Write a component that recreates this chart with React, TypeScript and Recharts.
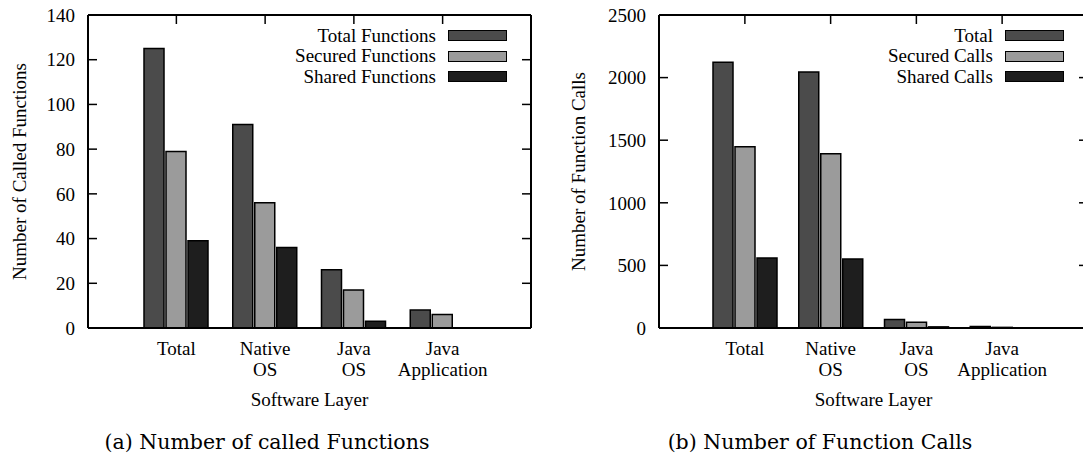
import { ComposedChart, Bar, Line, XAxis, YAxis, Legend } from 'recharts';

const layers = ['Total', 'Native\nOS', 'Java\nOS', 'Java\nApplication'];

// (a) number of called functions
const totalFunctions = [125, 91, 26, 8];
const securedFunctions = [79, 56, 17, 6];
const sharedFunctions = [39, 36, 3, 0];
const functionTicks = [0, 20, 40, 60, 80, 100, 120, 140];

// (b) number of function calls
const totalCalls = [2122, 2045, 67, 12];
const securedCalls = [1447, 1391, 46, 5];
const sharedCalls = [560, 552, 9, 0];
const callTicks = [0, 500, 1000, 1500, 2000, 2500];

const FONT = '"Liberation Serif", "DejaVu Serif", serif';
const FS = 19;
const PLOT_TOP = 15;
const colors = { total: '#4b4b4b', secured: '#9b9b9b', shared: '#1e1e1e' };

// category label (multi-line) plus the mirrored inward tick on the top border
const LayerTick = (props: any) => {
  const { x, y, payload } = props;
  const lines = String(payload.value).split('\n');
  return (
    <g>
      <line x1={x} x2={x} y1={PLOT_TOP} y2={PLOT_TOP + 9} stroke="#000" strokeWidth={1.5} />
      <text x={x} y={y} textAnchor="middle" style={{ fontFamily: FONT, fontSize: FS }} fill="#000">
        {lines.map((l, i) => (
          <tspan key={i} x={x} dy={i === 0 ? '0.71em' : 20.5}>{l}</tspan>
        ))}
      </text>
    </g>
  );
};

const makeLegend = (order: string[]) => (props: any) => {
  const items = [...(props.payload || [])]
    .filter((a: any) => order.includes(a.value))
    .sort((a: any, b: any) => order.indexOf(a.value) - order.indexOf(b.value));
  return (
    <div style={{ fontFamily: FONT, fontSize: FS, color: '#000' }}>
      {items.map((p: any) => (
        <div key={p.value} style={{ display: 'flex', justifyContent: 'flex-end', alignItems: 'center', height: 20.5, lineHeight: '20px' }}>
          <span>{p.value}</span>
          <span style={{ display: 'inline-block', width: 59, height: 11, marginLeft: 12, boxSizing: 'border-box', border: '1.5px solid #000', background: p.color }} />
        </div>
      ))}
    </div>
  );
};

interface PanelProps {
  left: number;
  values: number[][];
  names: string[];
  ticks: number[];
  yTitle: string;
  yTitleX: number;
  marginLeft: number;
  marginRight: number;
  plotWidth: number;
  legendLeft: number;
  legendWidth: number;
}

function Panel({ left, values, names, ticks, yTitle, yTitleX, marginLeft, marginRight, plotWidth, legendLeft, legendWidth }: PanelProps) {
  const data = layers.map((layer, i) => ({
    layer,
    total: values[0][i],
    secured: values[1][i],
    shared: values[2][i],
  }));
  const max = ticks[ticks.length - 1];
  const axisLine = { stroke: '#000', strokeWidth: 2 };
  const tickLine = { stroke: '#000', strokeWidth: 1.5 };
  const p = Math.round(plotWidth / 10);
  const pad = { left: p, right: p };
  const LegendContent = makeLegend(names);
  return (
    <div style={{ position: 'absolute', left, top: 0 }}>
      <ComposedChart
        width={560}
        height={455}
        data={data}
        barGap={2}
        margin={{ top: PLOT_TOP - 2, right: marginRight, bottom: 47, left: marginLeft }}
      >
        <XAxis
          dataKey="layer"
          xAxisId="bottom"
          height={80}
          padding={pad}
          axisLine={axisLine}
          tickLine={false}
          tickSize={-9}
          tickMargin={23}
          tick={<LayerTick />}
          interval={0}
          label={{
            content: (lp: any) => {
              const vb = lp.viewBox;
              return (
                <text x={vb.x + vb.width / 2} y={399} dy="0.35em" textAnchor="middle" style={{ fontFamily: FONT, fontSize: FS }} fill="#000">
                  Software Layer
                </text>
              );
            },
          }}
        />
        <XAxis
          dataKey="layer"
          xAxisId="top"
          orientation="top"
          height={2}
          padding={pad}
          axisLine={axisLine}
          tickLine={false}
          tick={false}
          interval={0}
        />
        <YAxis
          yAxisId="left"
          width={60}
          domain={[0, max]}
          ticks={ticks}
          allowDataOverflow
          axisLine={axisLine}
          tickLine={tickLine}
          tickSize={-9}
          tickMargin={22}
          tick={{ fill: '#000', style: { fontFamily: FONT, fontSize: FS } }}
          label={{
            content: (lp: any) => {
              const vb = lp.viewBox;
              const cy = vb.y + vb.height / 2;
              return (
                <text x={yTitleX} y={cy} dy="0.35em" transform={`rotate(-90 ${yTitleX} ${cy})`} textAnchor="middle" style={{ fontFamily: FONT, fontSize: FS }} fill="#000">
                  {yTitle}
                </text>
              );
            },
          }}
        />
        <YAxis
          yAxisId="right"
          orientation="right"
          width={5}
          domain={[0, max]}
          ticks={ticks}
          allowDataOverflow
          axisLine={axisLine}
          tickLine={tickLine}
          tickSize={-9}
          tickFormatter={() => ''}
        />
        <Legend
          layout="vertical"
          align="center"
          verticalAlign="middle"
          wrapperStyle={{ top: 25.5, left: legendLeft, width: legendWidth }}
          content={<LegendContent />}
        />
        <Bar xAxisId="bottom" yAxisId="left" dataKey="total" name={names[0]} fill={colors.total} stroke="#000" strokeWidth={1.5} barSize={20} isAnimationActive={false} />
        <Bar xAxisId="bottom" yAxisId="left" dataKey="secured" name={names[1]} fill={colors.secured} stroke="#000" strokeWidth={1.5} barSize={20} isAnimationActive={false} />
        <Bar xAxisId="bottom" yAxisId="left" dataKey="shared" name={names[2]} fill={colors.shared} stroke="#000" strokeWidth={1.5} barSize={20} isAnimationActive={false} />
        {/* carries the mirrored top / right axes (gnuplot-style box), draws nothing */}
        <Line xAxisId="top" yAxisId="right" dataKey="total" name="mirror" stroke="none" dot={false} activeDot={false} legendType="none" isAnimationActive={false} />
      </ComposedChart>
    </div>
  );
}

const captionStyle = {
  position: 'absolute' as const,
  top: 429,
  fontFamily: '"DejaVu Serif", serif',
  fontSize: 20.5,
  lineHeight: '26px',
  textAlign: 'center' as const,
  whiteSpace: 'nowrap' as const,
  color: '#000',
};

export default function App() {
  return (
    <div style={{ position: 'absolute', left: 0, top: 0, width: 1083, height: 455, overflow: 'hidden', background: '#fff' }}>
      <Panel
        left={0}
        values={[totalFunctions, securedFunctions, sharedFunctions]}
        names={['Total Functions', 'Secured Functions', 'Shared Functions']}
        ticks={functionTicks}
        yTitle="Number of Called Functions"
        yTitleX={19}
        marginLeft={28}
        marginRight={24}
        plotWidth={443}
        legendLeft={236}
        legendWidth={271}
      />
      <Panel
        left={540}
        values={[totalCalls, securedCalls, sharedCalls]}
        names={['Total', 'Secured Calls', 'Shared Calls']}
        ticks={callTicks}
        yTitle="Number of Function Calls"
        yTitleX={38}
        marginLeft={59}
        marginRight={7}
        plotWidth={429}
        legendLeft={254}
        legendWidth={270}
      />
      <div style={{ ...captionStyle, left: 67, width: 400 }}>(a) Number of called Functions</div>
      <div style={{ ...captionStyle, left: 620, width: 400 }}>(b) Number of Function Calls</div>
    </div>
  );
}
